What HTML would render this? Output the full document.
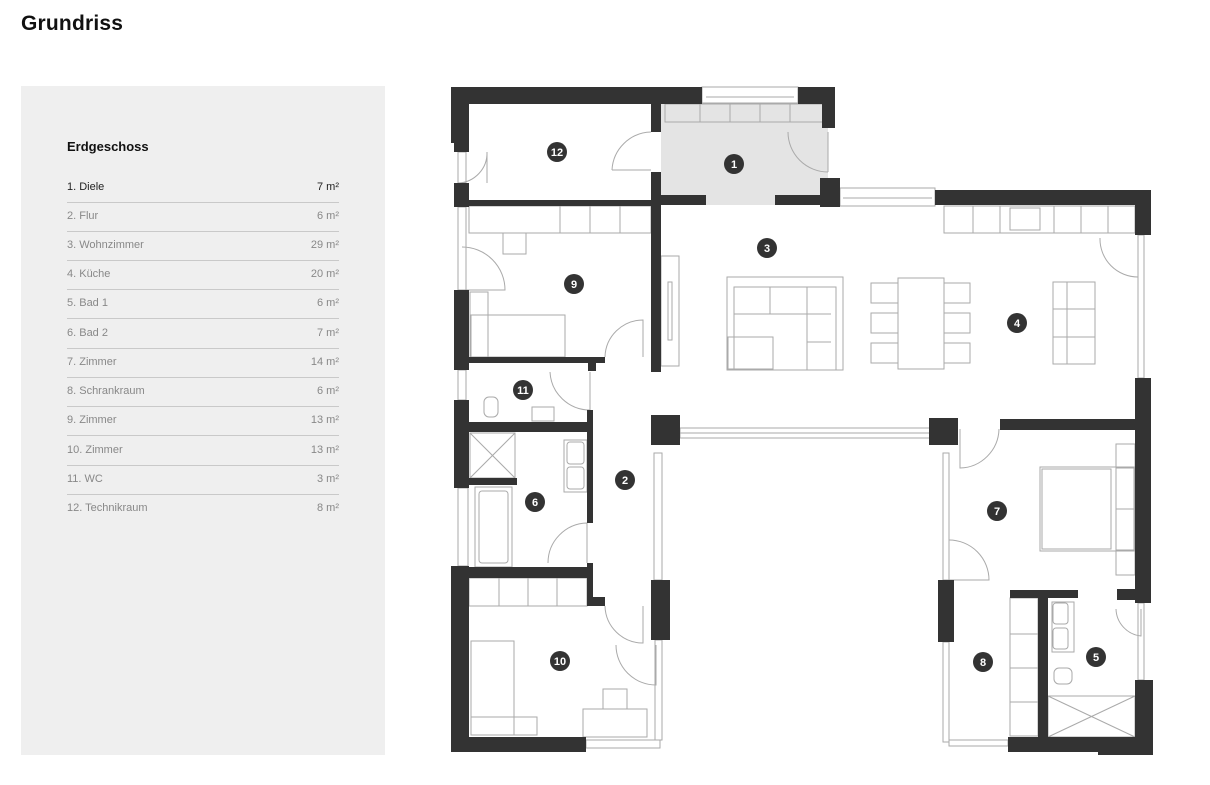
<!DOCTYPE html>
<html><head><meta charset="utf-8"><style>
html,body{margin:0;padding:0;background:#fff;width:1210px;height:785px;overflow:hidden;font-family:"Liberation Sans",sans-serif;}
.t{position:absolute;left:21px;top:12px;font-size:21px;font-weight:bold;color:#111;letter-spacing:0.2px}
.p{position:absolute;left:21px;top:86px;width:364px;height:669px;background:#efefef}
.h{position:absolute;left:46px;top:53px;font-size:13px;font-weight:bold;color:#111}
.r{position:absolute;left:46px;width:272px;height:29px;font-size:11px;color:#888;line-height:14px}
.r span{position:absolute;right:0;top:0}
.r:after{content:"";position:absolute;left:0;right:0;top:22px;border-top:1px solid #c9c9c9}
.r.last:after{display:none}
svg{position:absolute;left:0;top:0}
</style></head><body>
<div class="t">Grundriss</div>
<div class="p">
<div class="h">Erdgeschoss</div>
<div class="r" style="top:94px;color:#222">1. Diele<span>7 m²</span></div>
<div class="r" style="top:123px">2. Flur<span>6 m²</span></div>
<div class="r" style="top:152px">3. Wohnzimmer<span>29 m²</span></div>
<div class="r" style="top:181px">4. Küche<span>20 m²</span></div>
<div class="r" style="top:210px">5. Bad 1<span>6 m²</span></div>
<div class="r" style="top:240px">6. Bad 2<span>7 m²</span></div>
<div class="r" style="top:269px">7. Zimmer<span>14 m²</span></div>
<div class="r" style="top:298px">8. Schrankraum<span>6 m²</span></div>
<div class="r" style="top:327px">9. Zimmer<span>13 m²</span></div>
<div class="r" style="top:357px">10. Zimmer<span>13 m²</span></div>
<div class="r" style="top:386px">11. WC<span>3 m²</span></div>
<div class="r last" style="top:415px">12. Technikraum<span>8 m²</span></div>
</div>
<svg width="1210" height="785" viewBox="0 0 1210 785">
<rect x="661" y="104" width="167" height="101" fill="#e4e4e4"/>
<g fill="none" stroke="#aaa" stroke-width="1">
<!-- windows -->
<rect x="702" y="87" width="96" height="16"/><line x1="706" y1="97" x2="794" y2="97"/>
<rect x="840" y="188" width="95" height="18"/><line x1="843" y1="198" x2="932" y2="198"/>
<rect x="680" y="428" width="250" height="10"/><line x1="680" y1="433" x2="930" y2="433"/>
<rect x="586" y="740" width="74" height="8"/>
<rect x="458" y="152" width="8" height="31"/><rect x="458" y="207" width="8" height="83"/>
<rect x="458" y="370" width="8" height="30"/><rect x="458" y="488" width="10" height="78"/>
<rect x="654" y="453" width="8" height="127"/><rect x="655" y="640" width="7" height="100"/>
<rect x="943" y="453" width="6" height="127"/><rect x="943" y="642" width="6" height="100"/>
<rect x="949" y="740" width="59" height="6"/>
<rect x="1138" y="235" width="6" height="143"/><rect x="1138" y="603" width="6" height="77"/>
<rect x="1137" y="207" width="5" height="0"/>
<!-- entry cabinets -->
<rect x="665" y="104" width="160" height="18"/><line x1="700" y1="104" x2="700" y2="122"/><line x1="730" y1="104" x2="730" y2="122"/><line x1="760" y1="104" x2="760" y2="122"/><line x1="790" y1="104" x2="790" y2="122"/>
<!-- room 9 furniture -->
<rect x="469" y="206" width="182" height="27"/><line x1="560" y1="206" x2="560" y2="233"/><line x1="590" y1="206" x2="590" y2="233"/><line x1="620" y1="206" x2="620" y2="233"/>
<rect x="503" y="233" width="23" height="21"/>
<rect x="471" y="315" width="94" height="42"/><rect x="470" y="292" width="18" height="65"/>
<!-- living -->
<rect x="661" y="256" width="18" height="110"/><rect x="668" y="282" width="4" height="58"/>
<rect x="727" y="277" width="116" height="93"/><rect x="734" y="287" width="102" height="83"/>
<line x1="734" y1="314" x2="831" y2="314"/><line x1="770" y1="287" x2="770" y2="314"/><line x1="807" y1="287" x2="807" y2="370"/><line x1="807" y1="342" x2="831" y2="342"/>
<rect x="728" y="337" width="45" height="32"/>
<rect x="898" y="278" width="46" height="91"/>
<rect x="871" y="283" width="27" height="20"/><rect x="871" y="313" width="27" height="20"/><rect x="871" y="343" width="27" height="20"/>
<rect x="944" y="283" width="26" height="20"/><rect x="944" y="313" width="26" height="20"/><rect x="944" y="343" width="26" height="20"/>
<!-- kitchen -->
<rect x="944" y="206" width="191" height="27"/>
<line x1="973" y1="206" x2="973" y2="233"/><line x1="1000" y1="206" x2="1000" y2="233"/><line x1="1054" y1="206" x2="1054" y2="233"/><line x1="1081" y1="206" x2="1081" y2="233"/><line x1="1108" y1="206" x2="1108" y2="233"/>
<rect x="1010" y="208" width="30" height="22"/>
<rect x="1053" y="282" width="42" height="82"/><line x1="1067" y1="282" x2="1067" y2="364"/><line x1="1053" y1="309" x2="1095" y2="309"/><line x1="1053" y1="337" x2="1095" y2="337"/>
<!-- WC 11 -->
<rect x="484" y="397" width="14" height="20" rx="5"/><rect x="532" y="407" width="22" height="14"/>
<!-- bath 6 -->
<rect x="470" y="433" width="45" height="45"/><line x1="470" y1="433" x2="515" y2="478"/><line x1="515" y1="433" x2="470" y2="478"/>
<rect x="475" y="487" width="37" height="80"/><rect x="479" y="491" width="29" height="72" rx="3"/>
<rect x="564" y="440" width="23" height="52"/><rect x="567" y="442" width="17" height="22" rx="3"/><rect x="567" y="467" width="17" height="22" rx="3"/>
<!-- room 10 -->
<rect x="469" y="578" width="118" height="28"/><line x1="499" y1="578" x2="499" y2="606"/><line x1="528" y1="578" x2="528" y2="606"/><line x1="557" y1="578" x2="557" y2="606"/>
<rect x="471" y="641" width="43" height="94"/><rect x="471" y="717" width="66" height="18"/>
<rect x="583" y="709" width="64" height="28"/><rect x="603" y="689" width="24" height="20"/>
<!-- room 7 -->
<rect x="1040" y="467" width="94" height="84"/><rect x="1042" y="469" width="69" height="80"/>
<rect x="1116" y="444" width="19" height="24"/><rect x="1116" y="468" width="19" height="41"/><rect x="1116" y="509" width="19" height="41"/><rect x="1116" y="551" width="19" height="24"/>
<!-- room 8 cabinets -->
<rect x="1010" y="598" width="28" height="138"/><line x1="1010" y1="634" x2="1038" y2="634"/><line x1="1010" y1="668" x2="1038" y2="668"/><line x1="1010" y1="702" x2="1038" y2="702"/>
<!-- bath 5 -->
<rect x="1052" y="602" width="22" height="50"/><rect x="1053" y="603" width="15" height="21" rx="3"/><rect x="1053" y="628" width="15" height="21" rx="3"/>
<rect x="1054" y="668" width="18" height="16" rx="5"/>
<rect x="1048" y="696" width="87" height="41"/><line x1="1048" y1="696" x2="1135" y2="737"/><line x1="1135" y1="696" x2="1048" y2="737"/>
<!-- doors -->
<path d="M612 170 A40 40 0 0 1 651 132 M612 170 H651"/>
<path d="M828 172 A40 40 0 0 1 788 132 M828 132 V172"/>
<path d="M458 183 A30 30 0 0 0 487 152 V183"/>
<path d="M462 247 A43 43 0 0 1 505 290 H462"/>
<path d="M605 357 A38 38 0 0 1 643 320 V357"/>
<path d="M550 372 A40 40 0 0 0 590 410 V372"/>
<path d="M548 563 A40 40 0 0 1 587 523 V563"/>
<path d="M605 606 A38 38 0 0 0 643 643 V606"/>
<path d="M616 645 A40 40 0 0 0 656 685 V645"/>
<path d="M960 429 V468 A40 40 0 0 0 999 429"/>
<path d="M949 540 A40 40 0 0 1 989 580 H949"/>
<path d="M1100 238 A38 38 0 0 0 1138 277 V238"/>
<path d="M1116 609 A28 28 0 0 0 1141 636 V609"/>
</g>
<g fill="#333">
<path d="M451 87 H702 V104 H469 V143 H451 Z"/>
<rect x="454" y="143" width="15" height="9"/>
<rect x="454" y="183" width="15" height="24"/>
<path d="M798 87 H835 V128 H822 V104 H798 Z"/>
<rect x="651" y="104" width="10" height="28"/>
<rect x="651" y="172" width="10" height="200"/>
<rect x="469" y="200" width="182" height="6"/>
<rect x="661" y="195" width="45" height="10"/><rect x="775" y="195" width="45" height="10"/>
<rect x="820" y="178" width="20" height="29"/>
<rect x="454" y="290" width="15" height="80"/>
<rect x="469" y="357" width="136" height="6"/><rect x="588" y="363" width="8" height="8"/>
<rect x="454" y="400" width="15" height="88"/>
<rect x="469" y="422" width="119" height="10"/>
<rect x="587" y="410" width="6" height="113"/>
<rect x="469" y="478" width="48" height="7"/>
<rect x="469" y="567" width="123" height="11"/>
<rect x="587" y="563" width="6" height="43"/><rect x="593" y="597" width="12" height="9"/>
<path d="M451 566 H469 V737 H586 V752 H451 Z"/>
<rect x="651" y="415" width="29" height="30"/>
<rect x="651" y="580" width="19" height="60"/>
<rect x="935" y="190" width="216" height="15"/>
<rect x="1135" y="190" width="16" height="45"/>
<rect x="1135" y="378" width="16" height="225"/>
<rect x="1000" y="419" width="135" height="11"/>
<rect x="929" y="418" width="29" height="27"/>
<rect x="938" y="580" width="16" height="62"/>
<rect x="1010" y="590" width="68" height="8"/>
<rect x="1038" y="598" width="10" height="139"/>
<rect x="1117" y="589" width="18" height="11"/>
<path d="M1135 680 H1153 V755 H1098 V752 H1008 V737 H1135 Z"/>
</g>
<g fill="#333">
<circle cx="557" cy="152" r="10"/><circle cx="734" cy="164" r="10"/><circle cx="767" cy="248" r="10"/><circle cx="574" cy="284" r="10"/>
<circle cx="1017" cy="323" r="10"/><circle cx="523" cy="390" r="10"/><circle cx="625" cy="480" r="10"/><circle cx="535" cy="502" r="10"/>
<circle cx="997" cy="511" r="10"/><circle cx="560" cy="661" r="10"/><circle cx="983" cy="662" r="10"/><circle cx="1096" cy="657" r="10"/>
</g>
<g fill="#fff" font-family="Liberation Sans,sans-serif" font-weight="bold" font-size="11" text-anchor="middle">
<text x="557" y="156">12</text><text x="734" y="168">1</text><text x="767" y="252">3</text><text x="574" y="288">9</text>
<text x="1017" y="327">4</text><text x="523" y="394">11</text><text x="625" y="484">2</text><text x="535" y="506">6</text>
<text x="997" y="515">7</text><text x="560" y="665">10</text><text x="983" y="666">8</text><text x="1096" y="661">5</text>
</g>
</svg>
</body></html>
